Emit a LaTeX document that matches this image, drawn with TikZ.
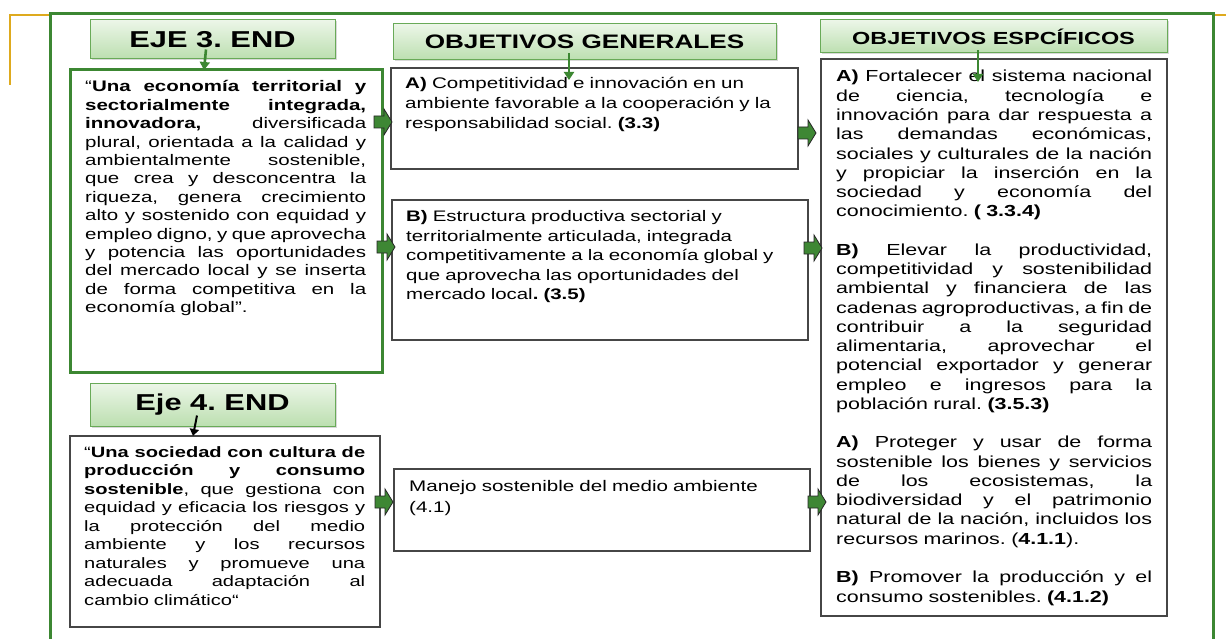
\documentclass[tikz,border=0pt]{standalone}
\usepackage{fontspec}
\setmainfont{Liberation Sans}[FakeStretch=1.34]
\usetikzlibrary{arrows.meta,calc,shadows}
\frenchspacing
\definecolor{framegreen}{RGB}{60,135,50}
\definecolor{hdrtop}{RGB}{236,246,232}
\definecolor{hdrbot}{RGB}{188,223,176}
\definecolor{hdrline}{RGB}{105,170,88}
\definecolor{arrowgreen}{RGB}{62,135,52}
\definecolor{gold}{RGB}{222,170,30}
\definecolor{boxline}{RGB}{70,70,70}
\newcommand{\jl}[1]{\hbox to \hsize{\spaceskip=0.3em plus 1fill minus 0.1em #1}}
\tikzset{
  hdr/.style={draw=hdrline, line width=1pt, top color=hdrtop, bottom color=hdrbot,
    drop shadow={opacity=0.3, shadow xshift=1.5pt, shadow yshift=-1.5pt},
    inner sep=0pt, font=\bfseries},
  greenbox/.style={draw=framegreen, line width=3pt, anchor=north west, inner sep=0pt, outer sep=0pt},
  plainbox/.style={draw=boxline, line width=1.2pt, anchor=north west, inner sep=0pt, outer sep=0pt},
  txt/.style={anchor=base west, inner sep=0pt, align=left},
  garrow/.style={draw=framegreen, line width=2.6pt, -{Triangle[length=8pt,width=10pt]}},
  karrow/.style={draw=black, line width=2pt, -{Triangle[length=7pt,width=9pt]}},
  blockarr/.pic={\draw[fill=arrowgreen, draw=black!85, line width=0.8pt, line join=miter]
    (0,-6) -- (10,-6) -- (10,-13) -- (18,0) -- (10,13) -- (10,6) -- (0,6) -- cycle;}
}
\begin{document}
\begin{tikzpicture}[x=1pt,y=-1pt]
\fill[white] (0,0) rectangle (1226,639);
\useasboundingbox (0,0) rectangle (1226,639);
% decorative lines
\draw[gold, line width=2pt] (10,85) -- (10,15) -- (50,15);
\draw[gold, line width=2pt] (1214,15) -- (1226,15);
\draw[framegreen, line width=3pt] (50,645) -- (50,14) -- (1213,14) -- (1213,645);

% headers
\node[hdr, minimum width=245pt, minimum height=39pt, font=\bfseries\fontsize{23}{27}\selectfont] (h1) at (212.5,39.5) {EJE 3. END};
\node[hdr, minimum width=383pt, minimum height=36pt, font=\bfseries\fontsize{19.5}{23}\selectfont] (h2) at (584.5,42) {OBJETIVOS GENERALES};
\node[hdr, minimum width=347pt, minimum height=33pt, font=\bfseries\fontsize{17.5}{21}\selectfont] (h3) at (993.5,36.5) {OBJETIVOS ESPCÍFICOS};
\node[hdr, minimum width=245pt, minimum height=43pt, font=\bfseries\fontsize{23}{27}\selectfont] (h4) at (212.5,404.5) {Eje 4. END};

% boxes
\node[greenbox, minimum width=312pt, minimum height=302pt] (b1) at (70,70) {};
\node[plainbox, minimum width=310pt, minimum height=191pt] (b4) at (70,436) {};
\node[plainbox, minimum width=407pt, minimum height=101pt] (gA) at (391,68) {};
\node[plainbox, minimum width=416pt, minimum height=140pt] (gB) at (392,200) {};
\node[plainbox, minimum width=416pt, minimum height=82pt] (gM) at (394,469) {};
\node[plainbox, minimum width=346pt, minimum height=557pt] (sp) at (821,59) {};

% texts
\node[txt, text width=281pt, font=\fontsize{15.3}{18.4}\selectfont] (t1) at ($(b1.north west)+(15,22)$) {%
\jl{“\textbf{Una economía territorial y}}
\jl{\textbf{sectorialmente integrada,}}
\jl{\textbf{innovadora,} diversificada}
\jl{plural, orientada a la calidad y}
\jl{ambientalmente sostenible,}
\jl{que crea y desconcentra la}
\jl{riqueza, genera crecimiento}
\jl{alto y sostenido con equidad y}
\jl{empleo digno, y que aprovecha}
\jl{y potencia las oportunidades}
\jl{del mercado local y se inserta}
\jl{de forma competitiva en la}
economía global”.};

\node[txt, text width=281pt, font=\fontsize{15}{18.5}\selectfont] (t4) at ($(b4.north west)+(14,21)$) {%
\jl{“\textbf{Una sociedad con cultura de}}
\jl{\textbf{producción y consumo}}
\jl{\textbf{sostenible}, que gestiona con}
\jl{equidad y eficacia los riesgos y}
\jl{la protección del medio}
\jl{ambiente y los recursos}
\jl{naturales y promueve una}
\jl{adecuada adaptación al}
cambio climático“};

\node[txt, text width=390pt, font=\fontsize{15.35}{20}\selectfont] (tA) at ($(gA.north west)+(14,21)$) {%
\textbf{A)} Competitividad e innovación en un\\
ambiente favorable a la cooperación y la\\
responsabilidad social. \textbf{(3.3)}};

\node[txt, text width=400pt, font=\fontsize{15.25}{19.4}\selectfont] (tB) at ($(gB.north west)+(14,22)$) {%
\textbf{B)} Estructura productiva sectorial y\\
territorialmente articulada, integrada\\
competitivamente a la economía global y\\
que aprovecha las oportunidades del\\
mercado local\textbf{. (3.5)}};

\node[txt, text width=400pt, font=\fontsize{15.35}{21}\selectfont] (tM) at ($(gM.north west)+(15,22)$) {%
Manejo sostenible del medio ambiente\\
(4.1)};

\node[txt, text width=316pt, font=\fontsize{16}{19.26}\selectfont] (tS) at ($(sp.north west)+(15,23)$) {%
\jl{\textbf{A)} Fortalecer el sistema nacional}
\jl{de ciencia, tecnología e}
\jl{innovación para dar respuesta a}
\jl{las demandas económicas,}
\jl{sociales y culturales de la nación}
\jl{y propiciar la inserción en la}
\jl{sociedad y economía del}
conocimiento. \textbf{( 3.3.4)}\par\vspace{\baselineskip}
\jl{\textbf{B)} Elevar la productividad,}
\jl{competitividad y sostenibilidad}
\jl{ambiental y financiera de las}
\jl{cadenas agroproductivas, a fin de}
\jl{contribuir a la seguridad}
\jl{alimentaria, aprovechar el}
\jl{potencial exportador y generar}
\jl{empleo e ingresos para la}
población rural. \textbf{(3.5.3)}\par\vspace{\baselineskip}
\jl{\textbf{A)} Proteger y usar de forma}
\jl{sostenible los bienes y servicios}
\jl{de los ecosistemas, la}
\jl{biodiversidad y el patrimonio}
\jl{natural de la nación, incluidos los}
recursos marinos. (\textbf{4.1.1}).\par\vspace{\baselineskip}
\jl{\textbf{B)} Promover la producción y el}
consumo sostenibles. \textbf{(4.1.2)}};

% down arrows from headers
\draw[garrow] ($(h1.south)+(-6.5,-10)$) -- ($(b1.north)+(-22,0)$);
\draw[garrow] ($(h2.south)+(-15.5,-7)$) -- ($(gA.north)+(-25.5,12)$);
\draw[garrow] ($(h3.south)+(-15.5,-3)$) -- ($(sp.north)+(-16,23)$);
\draw[karrow] ($(h4.south)+(-15.5,-11)$) -- ($(b4.north)+(-32,0)$);

% block arrows
\pic at ($(b1.east |- gA.west)+(-8,3.5)$) {blockarr};
\pic at ($(b1.east |- gB.west)+(-5,-23)$) {blockarr};
\pic at ($(gA.east)+(0,14.5)$) {blockarr};
\pic at ($(gB.east)+(-4,-22)$) {blockarr};
\pic at ($(b4.east |- gM.west)+(-5,-8)$) {blockarr};
\pic at ($(gM.east)+(-2,-8)$) {blockarr};
\end{tikzpicture}
\end{document}
